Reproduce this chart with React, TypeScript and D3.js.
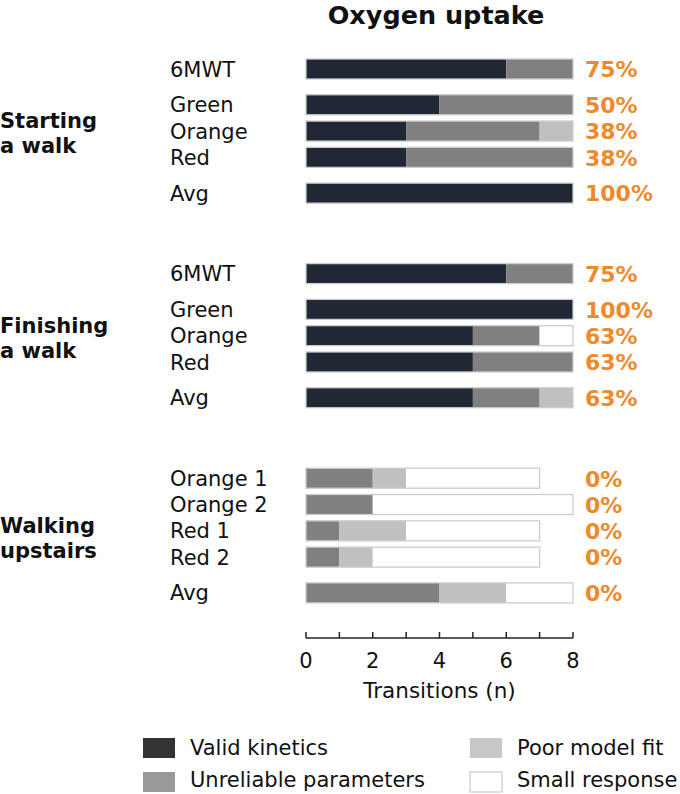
import React from "react";
import * as d3 from "d3";

const title = "Oxygen uptake";
const groupLabels = [["Starting", "a walk"], ["Finishing", "a walk"], ["Walking", "upstairs"]];
const rowLabels = [
  ["6MWT", "Green", "Orange", "Red", "Avg"],
  ["6MWT", "Green", "Orange", "Red", "Avg"],
  ["Orange 1", "Orange 2", "Red 1", "Red 2", "Avg"],
];
const validKinetics = [[6, 4, 3, 3, 8], [6, 8, 5, 5, 5], [0, 0, 0, 0, 0]];
const unreliableParams = [[2, 4, 4, 5, 0], [2, 0, 2, 3, 2], [2, 2, 1, 1, 4]];
const poorModelFit = [[0, 0, 1, 0, 0], [0, 0, 0, 0, 1], [1, 0, 2, 1, 2]];
const smallResponse = [[0, 0, 0, 0, 0], [0, 0, 1, 0, 0], [4, 6, 4, 5, 2]];
const pctLabels = [
  ["75%", "50%", "38%", "38%", "100%"],
  ["75%", "100%", "63%", "63%", "63%"],
  ["0%", "0%", "0%", "0%", "0%"],
];
const seriesKeys = ["valid", "unreliable", "poor", "small"];
const seriesNames = ["Valid kinetics", "Unreliable parameters", "Poor model fit", "Small response"];
const barColors = ["#1f2834", "#808080", "#c0c0c0", "#ffffff"];
const legendColors = ["#333333", "#999999", "#c8c8c8", "#ffffff"];
const xDomain = [0, 8];
const axisTitle = "Transitions (n)";

const FONT = "'DejaVu Sans', Verdana, sans-serif";

export default function App() {
  type Row = { g: number; i: number; label: string; pct: string; slot: number; valid: number; unreliable: number; poor: number; small: number };
  const rows: Row[] = [];
  let slot = 0;
  groupLabels.forEach((_, g) => {
    rowLabels[g].forEach((label, i) => {
      if (rows.length > 0) {
        const prev = rows[rows.length - 1];
        if (i === 0) slot += 3.06;
        else if (prev.label === "6MWT" || label === "Avg") slot += 1.36;
        else slot += 1;
      }
      rows.push({
        g, i, label, pct: pctLabels[g][i], slot,
        valid: validKinetics[g][i],
        unreliable: unreliableParams[g][i],
        poor: poorModelFit[g][i],
        small: smallResponse[g][i],
      });
    });
  });

  const x = d3.scaleLinear().domain(xDomain).range([306, 573]);
  const y = d3.scaleLinear().domain([0, 1]).range([69, 95.3]);
  const barH = 20;
  const stack = d3.stack<Row>().keys(seriesKeys);
  const series = stack(rows);

  const axisY = 638;
  const tickMarks = x.ticks(8);
  const tickLabels = x.ticks(4);

  return (
    <div style={{ position: "absolute", left: 0, top: 0 }}>
      <svg width={680} height={794} style={{ display: "block", fontFamily: FONT }}>
        <rect width={680} height={794} fill="#fff" />
        <text x={436} y={24} textAnchor="middle" fontSize={25.5} fontWeight="bold" fill="#111">{title}</text>

        {series.map((s, si) => (
          <g key={s.key}>
            {s.map((d, ri) => {
              const w = x(d[1]) - x(d[0]);
              if (w <= 0) return null;
              return (
                <rect key={ri} x={x(d[0])} y={y(rows[ri].slot) - barH / 2} width={w} height={barH}
                  fill={barColors[si]} />
              );
            })}
          </g>
        ))}
        {rows.map((r, ri) => {
          const total = r.valid + r.unreliable + r.poor + r.small;
          return (
            <rect key={"o" + ri} x={x(0)} y={y(r.slot) - barH / 2} width={x(total) - x(0)} height={barH}
              fill="none" stroke="#cccccc" strokeWidth={1.3} />
          );
        })}

        {rows.map((r, ri) => (
          <text key={"l" + ri} x={170} y={y(r.slot)} dy="0.36em" fontSize={21} fill="#111">{r.label}</text>
        ))}
        {rows.map((r, ri) => (
          <text key={"p" + ri} x={585} y={y(r.slot)} dy="0.38em" fontSize={22} fontWeight="bold" fill="#ee8a2c">{r.pct}</text>
        ))}

        {groupLabels.map((lines, g) => {
          const gr = rows.filter((r) => r.g === g);
          const c = (y(gr[0].slot) + y(gr[gr.length - 1].slot)) / 2;
          return (
            <text key={"g" + g} x={0} fontSize={21} fontWeight="bold" fill="#111">
              {lines.map((ln, li) => (
                <tspan key={li} x={0} y={c - 3 + li * 25}>{ln}</tspan>
              ))}
            </text>
          );
        })}

        <line x1={x(xDomain[0])} x2={x(xDomain[1])} y1={axisY} y2={axisY} stroke="#222" strokeWidth={1.5} />
        {tickMarks.map((t) => (
          <line key={"t" + t} x1={x(t)} x2={x(t)} y1={axisY} y2={axisY - 6} stroke="#222" strokeWidth={1.5} />
        ))}
        {tickLabels.map((t) => (
          <text key={"tl" + t} x={x(t)} y={668} textAnchor="middle" fontSize={21} fill="#111">{t}</text>
        ))}
        <text x={(x(xDomain[0]) + x(xDomain[1])) / 2} y={698} textAnchor="middle" fontSize={21.5} fill="#111">{axisTitle}</text>

        {seriesNames.map((name, i) => {
          const col = Math.floor(i / 2);
          const rowi = i % 2;
          const sx = col === 0 ? 143 : 470;
          const sy = 738 + rowi * 34;
          return (
            <g key={"lg" + i}>
              <rect x={sx} y={sy} width={32} height={20} fill={legendColors[i]} stroke={i === 3 ? "#cccccc" : "none"} strokeWidth={1.3} />
              <text x={sx + 47} y={sy + 9 - rowi * 2} dy="0.36em" fontSize={21} fill="#111">{name}</text>
            </g>
          );
        })}
      </svg>
    </div>
  );
}
